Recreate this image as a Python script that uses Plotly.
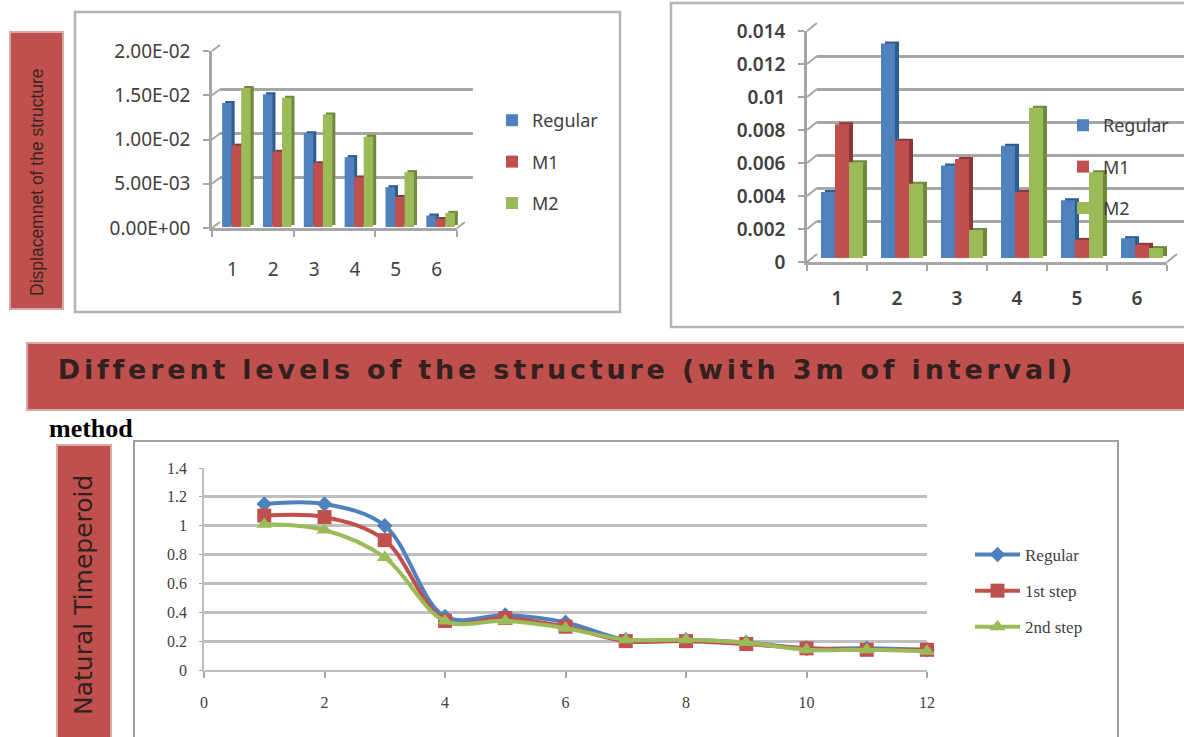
import plotly.graph_objects as go

W, H = 1184, 737

levels = [1, 2, 3, 4, 5, 6]
disp_names = ["Regular", "M1", "M2"]
disp_regular = [0.0140, 0.0150, 0.0106, 0.0079, 0.0045, 0.0013]
disp_m1 = [0.0092, 0.0085, 0.0072, 0.0056, 0.0034, 0.0009]
disp_m2 = [0.0157, 0.0146, 0.0127, 0.0102, 0.0062, 0.0016]
disp_ticks = [0, 0.005, 0.01, 0.015, 0.02]
disp_ticktext = ["0.00E+00", "5.00E-03", "1.00E-02", "1.50E-02", "2.00E-02"]

right_regular = [0.0040, 0.0130, 0.0056, 0.0068, 0.0035, 0.0012]
right_m1 = [0.0081, 0.0071, 0.0060, 0.0040, 0.0011, 0.0008]
right_m2 = [0.0058, 0.0045, 0.0017, 0.0091, 0.0052, 0.0006]
right_ticks = [0, 0.002, 0.004, 0.006, 0.008, 0.01, 0.012, 0.014]
right_ticktext = ["0", "0.002", "0.004", "0.006", "0.008", "0.01", "0.012", "0.014"]

modes = [1, 2, 3, 4, 5, 6, 7, 8, 9, 10, 11, 12]
period_names = ["Regular", "1st step", "2nd step"]
period_regular = [1.15, 1.15, 1.00, 0.37, 0.38, 0.33, 0.21, 0.21, 0.19, 0.15, 0.15, 0.14]
period_step1 = [1.07, 1.06, 0.90, 0.34, 0.36, 0.30, 0.20, 0.20, 0.18, 0.15, 0.14, 0.14]
period_step2 = [1.01, 0.97, 0.78, 0.34, 0.34, 0.29, 0.21, 0.21, 0.19, 0.14, 0.14, 0.13]
period_yticks = [0, 0.2, 0.4, 0.6, 0.8, 1, 1.2, 1.4]
period_xticks = [0, 2, 4, 6, 8, 10, 12]

BLUE, RED, GREEN = "#4F81BD", "#C0504D", "#9BBB59"
DBLUE, DRED, DGREEN = "#2F5D90", "#8C3836", "#71893F"
GRID = "#A6A6A6"
TXT = "#404040"
PANEL = "#C0504D"


def fx(p):
    return min(max(p / W, 0), 1)


def fy(p):
    return min(max(1 - p / H, 0), 1)


fig = go.Figure()
layout = {}
axis_n = [0]


def add_axes(x0, x1, ybase, ytop, xr, yr, xopts, yopts):
    axis_n[0] += 1
    n = axis_n[0]
    sx = "" if n == 1 else str(n)
    layout["xaxis" + sx] = dict(domain=[fx(x0), fx(x1)], range=xr, anchor="y" + sx, **xopts)
    layout["yaxis" + sx] = dict(domain=[fy(ybase), fy(ytop)], range=yr, anchor="x" + sx, **yopts)
    return "x" + sx, "y" + sx


HIDDEN = dict(visible=False, showgrid=False, zeroline=False, fixedrange=True)


def bar_chart(x0, x1, ybase, ytop, ymax, ticks, ticktext, series, back, shift, side, legend, minor, weight, standoff):
    xr = [0.5, 6.5]
    yr = [0, ymax]
    tf = dict(family="Noto Sans", size=19, color=TXT, weight=weight)
    # rear wall gridlines
    bx = x1 + back[0] + 8 if x1 < 1000 else W
    add = add_axes(x0 + back[0], min(bx, W), ybase - back[1], ytop - back[1], xr, yr, HIDDEN,
                   dict(showgrid=True, gridcolor=GRID, gridwidth=2.5, tickvals=ticks, showticklabels=False,
                        ticks="", showline=False, zeroline=False))
    fig.add_trace(go.Scatter(x=[None], y=[None], xaxis=add[0], yaxis=add[1], showlegend=False, hoverinfo="skip"))
    # bar side faces
    sax = add_axes(x0 + shift[0] + side[0], x1 + shift[0] + side[0], ybase - shift[1] - side[1],
                   ytop - shift[1] - side[1], xr, yr, HIDDEN, HIDDEN)
    for name, vals, col, dcol in series:
        fig.add_trace(go.Bar(x=levels, y=vals, marker=dict(color=dcol, line_width=0), xaxis=sax[0], yaxis=sax[1],
                             showlegend=False, hoverinfo="skip"))
    # bar front faces
    fax = add_axes(x0 + shift[0], x1 + shift[0], ybase - shift[1], ytop - shift[1], xr, yr, HIDDEN, HIDDEN)
    for name, vals, col, dcol in series:
        fig.add_trace(go.Bar(x=levels, y=vals, name=name, marker=dict(color=col, line_width=0), xaxis=fax[0], yaxis=fax[1],
                             legend=legend, legendgroup=name))
    # labelled front axes
    lab = add_axes(x0, x1, ybase, ytop, xr, yr,
                   dict(tickvals=levels, ticks="", ticklabelstandoff=standoff, showgrid=False, zeroline=False,
                        showline=True, linecolor=GRID, linewidth=2.5, tickfont=tf,
                        minor=dict(tickvals=minor, ticks="outside", ticklen=6, tickwidth=2, tickcolor=GRID)),
                   dict(tickvals=ticks, ticktext=ticktext, ticks="outside", ticklen=6, tickwidth=2, tickcolor=GRID,
                        ticklabelstandoff=9, showgrid=False, zeroline=False, showline=True, linecolor=GRID,
                        linewidth=2.5, tickfont=tf))
    fig.add_trace(go.Scatter(x=[None], y=[None], xaxis=lab[0], yaxis=lab[1], showlegend=False, hoverinfo="skip"))
    # little diagonals joining wall and axis
    out = []
    for t in ticks:
        py = ybase - (ybase - ytop) * t / ymax
        out.append(dict(type="line", xref="paper", yref="paper", layer="above", x0=fx(x0), y0=fy(py),
                        x1=fx(x0 + back[0]), y1=fy(py - back[1]), line=dict(color=GRID, width=2)))
    out.append(dict(type="line", xref="paper", yref="paper", layer="above", x0=fx(x1), y0=fy(ybase),
                    x1=fx(x1 + back[0]), y1=fy(ybase - back[1]), line=dict(color=GRID, width=2)))
    return out


def box(x0, y0, x1, y1, fill, line, width):
    return dict(type="rect", xref="paper", yref="paper", layer="below", x0=x0 / W, x1=x1 / W, y0=1 - y1 / H, y1=1 - y0 / H,
                fillcolor=fill, line=dict(color=line, width=width))


shapes = [
    box(10, 32, 63, 309, PANEL, "#D9A9A8", 2),
    box(75, 12, 620, 312, "white", "#B3B3B3", 2.5),
    box(671, 3, 1190, 327, "white", "#B3B3B3", 2.5),
    box(27, 343, 1190, 410, PANEL, "#D9A9A8", 2),
    box(57, 445, 111, 745, PANEL, "#D9A9A8", 2),
    box(134, 441, 1118, 745, "white", "#A0A0A0", 2),
]

shapes += bar_chart(212, 457, 228, 51, 0.02, disp_ticks, disp_ticktext,
                    [("Regular", disp_regular, BLUE, DBLUE), ("M1", disp_m1, RED, DRED), ("M2", disp_m2, GREEN, DGREEN)],
                    back=(8, 6), shift=(4, 1), side=(3, 2), legend="legend", minor=[0.5, 2.5, 4.5, 6.5], weight=400,
                    standoff=22)
shapes += bar_chart(807, 1167, 262, 31, 0.014, right_ticks, right_ticktext,
                    [("Regular", right_regular, BLUE, DBLUE), ("M1", right_m1, RED, DRED), ("M2", right_m2, GREEN, DGREEN)],
                    back=(10, 8), shift=(5, 4), side=(4, 2), legend="legend2",
                    minor=[0.5, 1.5, 2.5, 3.5, 4.5, 5.5, 6.5], weight=600, standoff=17)

lx, ly = add_axes(204, 927, 670, 468, [0, 12], [0, 1.4],
                  dict(tickvals=period_xticks, ticks="outside", ticklen=6, tickwidth=1.5, tickcolor="#A6A6A6",
                       ticklabelstandoff=11, showgrid=False, zeroline=False, showline=True, linecolor="#BFBFBF",
                       linewidth=2, tickfont=dict(family="Liberation Serif", size=16, color=TXT)),
                  dict(tickvals=period_yticks, ticktext=[str(v) for v in period_yticks], ticks="outside", ticklen=3,
                       tickcolor="#A6A6A6", showgrid=True, gridcolor="#BFBFBF", gridwidth=2.5, zeroline=False,
                       showline=True, linecolor="#BFBFBF", linewidth=1.5, ticklabelstandoff=9,
                       tickfont=dict(family="Liberation Serif", size=16, color=TXT)))
for name, vals, col, sym, msize in [("Regular", period_regular, BLUE, "diamond", 12),
                                    ("1st step", period_step1, RED, "square", 14),
                                    ("2nd step", period_step2, GREEN, "triangle-up", 14)]:
    fig.add_trace(go.Scatter(x=modes, y=vals, name=name, mode="lines+markers", xaxis=lx, yaxis=ly,
                             line=dict(color=col, width=4, shape="spline", smoothing=1),
                             marker=dict(symbol=sym, size=msize, color=col), cliponaxis=False,
                             legend="legend3", legendgroup=name))

annotations = [
    dict(text="Displacemnet of the structure", x=fx(37), y=fy(182), textangle=-90,
         font=dict(family="Liberation Sans", size=17.5, color="#3A2422")),
    dict(text="<b>Different levels of the structure (with 3m of interval)</b>", x=fx(567), y=fy(369),
         font=dict(family="DejaVu Sans", size=27, color="#33211F")),
    dict(text="<b>method</b>", x=fx(91), y=fy(428), font=dict(family="Liberation Serif", size=26, color="black")),
    dict(text="Natural Timeperoid", x=fx(83), y=fy(595), textangle=-90,
         font=dict(family="DejaVu Sans", size=25, color="#33211F")),
]
for a in annotations:
    a.update(xref="paper", yref="paper", showarrow=False, xanchor="center", yanchor="middle")


def legend_at(x, y, gap, font, itemwidth=30):
    return dict(x=fx(x), y=fy(y), xanchor="left", yanchor="top", bgcolor="rgba(0,0,0,0)", borderwidth=0,
                tracegroupgap=gap, font=font, traceorder="grouped", itemclick=False, itemdoubleclick=False,
                itemwidth=itemwidth)


fig.update_layout(
    width=W, height=H, margin=dict(l=0, r=0, t=0, b=0, pad=0, autoexpand=False), autosize=False,
    paper_bgcolor="white", plot_bgcolor="rgba(0,0,0,0)",
    barmode="group", bargap=0.3, bargroupgap=0,
    shapes=shapes, annotations=annotations, showlegend=True,
    legend=legend_at(492, 102, 15, dict(family="Noto Sans", size=18, color=TXT)),
    legend2=legend_at(1063, 107, 15, dict(family="Noto Sans", size=18, color=TXT)),
    legend3=legend_at(970, 537, 11, dict(family="Liberation Serif", size=17, color=TXT), itemwidth=45),
    **layout,
)

fig.write_html("out.html", config={"displayModeBar": False},
               post_script="document.body.style.margin='0';document.body.style.overflow='hidden';"
                           "document.querySelectorAll('.annotation-text').forEach(function(t){"
                           "if(t.textContent.indexOf('Different')===0){t.style.letterSpacing='3.8px';}});")
